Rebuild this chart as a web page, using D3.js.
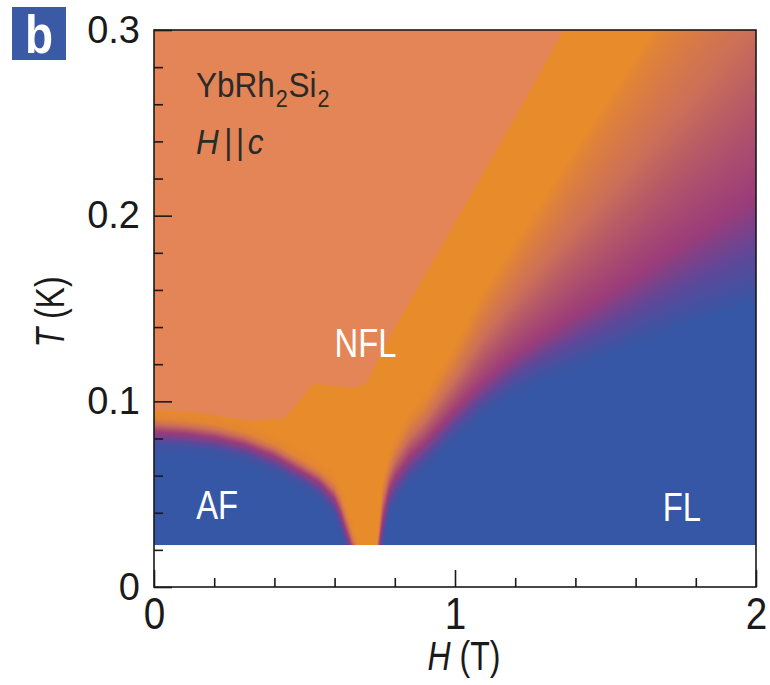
<!DOCTYPE html>
<html>
<head>
<meta charset="utf-8">
<script src="https://cdn.jsdelivr.net/npm/d3@7"></script>
<style>
  body { margin: 0; background: #fff; }
  svg { display: block; }
  text { font-family: "Liberation Sans", Arial, Helvetica, sans-serif; }
</style>
</head>
<body>
<svg id="chart" width="770" height="685"></svg>
<script>
// ---- axis ticks ----
const hTicks = [0, 1, 2];
const hMinorTicks = [0.2, 0.4, 0.6, 0.8, 1.2, 1.4, 1.6, 1.8];
const tTicks = [0, 0.1, 0.2, 0.3];
const tMinorTicks = [0.02, 0.04, 0.06, 0.08, 0.12, 0.14, 0.16, 0.18, 0.22, 0.24, 0.26, 0.28];

// lowest temperature of the measurement (K)
const tMin = 0.0226;

// ---- AF crossover: field H (T) and temperatures (K) where the exponent n reaches 1.95, 1.5, 1.05 ----
const afH       = [0,      0.1,    0.2,    0.3,    0.4,    0.5,    0.55,   0.6,    0.62,   0.64,   0.66,   0.68];
const afBlueT   = [0.0760, 0.0752, 0.0733, 0.0697, 0.0634, 0.0545, 0.0492, 0.0395, 0.0305, 0.0210, 0.0130, 0.0080];
const afMidT    = [0.0836, 0.0826, 0.0805, 0.0767, 0.0703, 0.0611, 0.0562, 0.0474, 0.0393, 0.0292, 0.0196, 0.0120];
const afOrangeT = [0.0912, 0.0900, 0.0878, 0.0838, 0.0772, 0.0680, 0.0630, 0.0560, 0.0495, 0.0398, 0.0290, 0.0195];

// ---- FL crossover: same three exponent levels on the high-field side ----
const flH       = [0.74,  0.76,   0.78,   0.80,   0.85,   0.9,    1.0,    1.1,    1.2,    1.3,    1.4,    1.5,    1.6,    1.7,    1.8,    1.9,    2.0];
const flBlueT   = [0.004, 0.0215, 0.0400, 0.0470, 0.0585, 0.0660, 0.0820, 0.0960, 0.1070, 0.1150, 0.1215, 0.1280, 0.1345, 0.1410, 0.1475, 0.1530, 0.1580];
const flMidT    = [0.012, 0.0361, 0.0512, 0.0587, 0.0700, 0.0775, 0.0950, 0.1110, 0.1245, 0.1355, 0.1460, 0.1560, 0.1670, 0.1780, 0.1885, 0.1990, 0.2095];
const flOrangeT = [0.020, 0.0539, 0.0662, 0.0751, 0.0894, 0.0986, 0.1250, 0.1560, 0.1804, 0.2052, 0.2300, 0.2548, 0.2790, 0.3038, 0.3285, 0.3533, 0.3780];

// ---- upper edge of the n = 1 (NFL) region ----
const nflTopH = [0,      0.153,  0.319,  0.429,  0.486,  0.529,  0.602,  0.669,  0.709,  0.769,  0.852,  0.952,  1.052,  1.151,  1.251,  1.361];
const nflTopT = [0.0953, 0.0937, 0.0894, 0.0905, 0.1007, 0.1093, 0.1083, 0.1072, 0.1104, 0.1303, 0.1546, 0.1826, 0.2111, 0.2391, 0.2677, 0.3000];

// ---- colour code of the exponent ----
const nStops  = [1, 1.25, 1.5, 1.75, 2];
const nColors = ["#e88b2b", "#cc6f58", "#9a3c7a", "#5f4799", "#3557a5"];
const aboveColor = "#e38556";

const svg = d3.select("#chart");

const x = d3.scaleLinear().domain([0, 2]).range([154, 756]);
const y = d3.scaleLinear().domain([0, 0.3]).range([587, 30]);

const nColor = d3.scaleLinear().domain(nStops).range(nColors)
  .interpolate(d3.interpolateRgb).clamp(true);

// piecewise-linear T(H) profile, undefined outside its field range
function profile(hs, ts, outside) {
  const s = d3.scaleLinear().domain(hs).range(ts);
  return h => (h < hs[0] || h > hs[hs.length - 1]) ? outside : s(h);
}
const afB = profile(afH, afBlueT, -Infinity);
const afM = profile(afH, afMidT, -Infinity);
const afO = profile(afH, afOrangeT, -Infinity);
const flB = profile(flH, flBlueT, -Infinity);
const flM = profile(flH, flMidT, -Infinity);
const flO = profile(flH, flOrangeT, -Infinity);
const topT = profile(nflTopH, nflTopT, Infinity);

// exponent at temperature T from the three crossover temperatures of one column
function exponent(T, tb, tm, to) {
  if (!isFinite(tb) || !isFinite(tm) || !isFinite(to)) return 1;
  const r = 0.006;
  if (T <= tb) return Math.min(2, 1.95 + 0.05 * (tb - T) / r);
  if (T <= tm) return 1.95 - 0.45 * (T - tb) / (tm - tb);
  if (T <= to) return 1.5 - 0.45 * (T - tm) / (to - tm);
  return Math.max(1, 1.05 - 0.05 * (T - to) / r);
}

// ---- colour map raster ----
const x0 = x(0), x1 = x(2), yTop = y(0.3), yBot = y(0);
const cw = Math.round(x1 - x0), ch = Math.round(yBot - yTop);
const canvas = document.createElement("canvas");
canvas.width = cw; canvas.height = ch;
const ctx = canvas.getContext("2d");
const img = ctx.createImageData(cw, ch);

const lut = d3.range(0, 1001).map(k => d3.rgb(nColor(1 + k / 1000)));
const upper = d3.rgb(aboveColor);
const yMin = y(tMin);

for (let i = 0; i < cw; i++) {
  const h = x.invert(x0 + i + 0.5);
  const a = [afB(h), afM(h), afO(h)];
  const f = [flB(h), flM(h), flO(h)];
  const tTop = topT(h);
  const yEdge = isFinite(tTop) ? y(tTop) : -Infinity;
  for (let j = 0; j < ch; j++) {
    const py = yTop + j + 0.5;
    const cover = Math.max(0, Math.min(1, yMin - (yTop + j)));
    if (cover <= 0) continue;
    const T = y.invert(py);
    const n = Math.max(exponent(T, a[0], a[1], a[2]), exponent(T, f[0], f[1], f[2]));
    const c = lut[Math.round((Math.min(2, Math.max(1, n)) - 1) * 1000)];
    const s = Math.max(0, Math.min(1, yEdge - py + 0.5));
    const k = 4 * (j * cw + i);
    img.data[k]     = c.r * (1 - s) + upper.r * s;
    img.data[k + 1] = c.g * (1 - s) + upper.g * s;
    img.data[k + 2] = c.b * (1 - s) + upper.b * s;
    img.data[k + 3] = 255 * cover;
  }
}
ctx.putImageData(img, 0, 0);

svg.append("image")
  .attr("x", x0).attr("y", yTop)
  .attr("width", cw).attr("height", ch)
  .attr("href", canvas.toDataURL());

// ---- frame ----
svg.append("rect")
  .attr("x", x0).attr("y", yTop)
  .attr("width", x1 - x0).attr("height", yBot - yTop)
  .attr("fill", "none").attr("stroke", "#1a1a1a").attr("stroke-width", 1.6);

// ---- axes (ticks point inward) ----
const fmtT = d => d === 0 ? "0" : d3.format(".1f")(d);

const gy = svg.append("g").attr("transform", `translate(${x0},0)`)
  .call(d3.axisLeft(y).tickValues(tTicks).tickSizeInner(-18).tickSizeOuter(0)
    .tickPadding(14).tickFormat(fmtT));
svg.append("g").attr("transform", `translate(${x0},0)`)
  .call(d3.axisLeft(y).tickValues(tMinorTicks).tickSizeInner(-9).tickSizeOuter(0)
    .tickFormat(""));

const gx = svg.append("g").attr("transform", `translate(0,${yBot})`)
  .call(d3.axisBottom(x).tickValues(hTicks).tickSizeInner(-17).tickSizeOuter(0)
    .tickPadding(10).tickFormat(d3.format("d")));
svg.append("g").attr("transform", `translate(0,${yBot})`)
  .call(d3.axisBottom(x).tickValues(hMinorTicks).tickSizeInner(-9).tickSizeOuter(0)
    .tickFormat(""));

svg.selectAll(".domain").remove();
svg.selectAll(".tick line").attr("stroke", "#1a1a1a").attr("stroke-width", 1.6);
svg.selectAll(".tick text").attr("fill", "#1a1a1a")
  .style("font-family", "'Liberation Sans', Arial, sans-serif");
gy.selectAll(".tick text").style("font-size", "38px");
gx.selectAll(".tick text").style("font-size", "45px")
  .attr("transform", "scale(0.86,1)");

// ---- axis titles ----
const yTitle = svg.append("text")
  .attr("transform", "translate(64,312) rotate(-90) scale(0.8,1)")
  .attr("text-anchor", "middle").attr("fill", "#1a1a1a").style("font-size", "40px");
yTitle.append("tspan").style("font-style", "italic").text("T");
yTitle.append("tspan").text(" (K)");

const xTitle = svg.append("text")
  .attr("transform", "translate(464,670) scale(0.8,1)")
  .attr("text-anchor", "middle").attr("fill", "#1a1a1a").style("font-size", "40px");
xTitle.append("tspan").style("font-style", "italic").text("H");
xTitle.append("tspan").text(" (T)");

// ---- panel letter ----
svg.append("rect").attr("x", 12).attr("y", 7).attr("width", 54).attr("height", 53)
  .attr("fill", "#3a5aa6");
svg.append("text").attr("transform", "translate(39,53) scale(0.85,1)")
  .attr("text-anchor", "middle").attr("fill", "#fff")
  .style("font-size", "54px").style("font-weight", "bold").text("b");

// ---- compound and field direction ----
const comp = svg.append("text").attr("transform", "translate(196,97) scale(0.9,1)")
  .attr("fill", "#2a2a2a").style("font-size", "35px");
comp.append("tspan").text("YbRh");
comp.append("tspan").attr("dx", 1).attr("dy", 10).style("font-size", "24px").text("2");
comp.append("tspan").attr("dx", 1).attr("dy", -10).text("Si");
comp.append("tspan").attr("dx", 1).attr("dy", 10).style("font-size", "24px").text("2");

const dir = svg.append("text").attr("transform", "translate(196,154) scale(0.9,1)")
  .attr("fill", "#2a2a2a").style("font-size", "35px");
dir.append("tspan").style("font-style", "italic").text("H");
dir.append("tspan").attr("dx", 6).text("|");
dir.append("tspan").attr("dx", 4).text("|");
dir.append("tspan").attr("dx", 4).style("font-style", "italic").text("c");

// ---- regime labels ----
const regimes = [
  { label: "NFL", h: 0.60, t: 0.124 },
  { label: "AF",  h: 0.14, t: 0.0367 },
  { label: "FL",  h: 1.69, t: 0.0356 }
];
svg.selectAll("text.regime").data(regimes).join("text")
  .attr("class", "regime")
  .attr("transform", d => `translate(${x(d.h)},${y(d.t)}) scale(0.82,1)`)
  .attr("fill", "#fff").style("font-size", "40px")
  .text(d => d.label);
</script>
</body>
</html>
